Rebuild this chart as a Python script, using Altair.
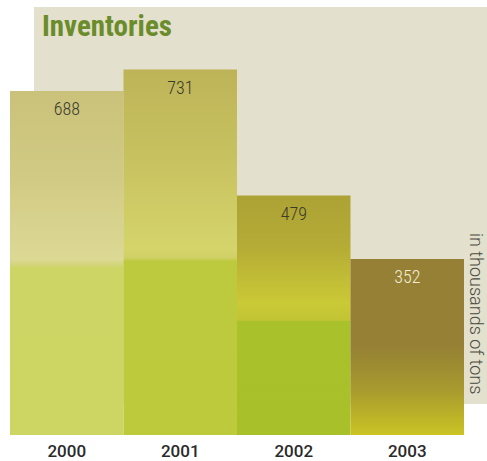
import altair as alt
import pandas as pd

years = ["2000", "2001", "2002", "2003"]
values = [688, 731, 479, 352]
label_colors = ["#3c3a2c", "#3c3a2c", "#3c3a2c", "#f3efd6"]

title_text = "Inventories"
unit_text = "in thousands of tons"

# gradient stops per bar (top -> bottom)
gradients = {
    "2000": [(0.0, "#cac27a"), (0.25, "#d1ca84"), (0.49, "#dcd995"), (0.505, "#d3d57a"), (0.515, "#cdd564"), (1.0, "#cdd563")],
    "2001": [(0.0, "#bdb458"), (0.25, "#c8c260"), (0.49, "#d5d46b"), (0.515, "#cfd066"), (0.525, "#bdca3d"), (1.0, "#bdca3c")],
    "2002": [(0.0, "#ada335"), (0.2, "#b4aa36"), (0.45, "#cac936"), (0.52, "#c2c434"), (0.527, "#a9c22c"), (1.0, "#a8c12b")],
    "2003": [(0.0, "#958035"), (0.49, "#958035"), (0.75, "#a99b2e"), (1.0, "#cac424")],
}

df = pd.DataFrame({"year": years, "value": values, "lc": label_colors})

x_enc = alt.X("year:N", sort=years,
              scale=alt.Scale(domain=years, paddingInner=0, paddingOuter=0),
              axis=alt.Axis(title=None, labelAngle=0, domain=False, ticks=False,
                            labelFont="Roboto", labelFontSize=17, labelFontWeight=500,
                            labelColor="#2a2a2a", labelPadding=8))
y_enc = alt.Y("value:Q", scale=alt.Scale(domain=[0, 800], nice=False), axis=None)

bg = alt.Chart(alt.Data(values=[{"a": 1}])).mark_rect(color="#e3e0cd").encode(
    x=alt.value(24), x2=alt.value(477), y=alt.value(-28), y2=alt.value(369)
)

bars = []
for yr in years:
    stops = [alt.GradientStop(offset=o, color=c) for o, c in gradients[yr]]
    bars.append(
        alt.Chart(df).mark_bar(
            color=alt.Gradient(gradient="linear", stops=stops, x1=0, x2=0, y1=0, y2=1)
        ).encode(x=x_enc, y=y_enc).transform_filter(alt.datum.year == yr)
    )

labels = alt.Chart(df).mark_text(
    font="Liberation Sans Narrow, Roboto Condensed, Roboto", fontSize=18, fontWeight=300,
    baseline="alphabetic", dy=24
).encode(
    x=x_enc, y=y_enc, text="value:Q",
    color=alt.Color("lc:N", scale=None, legend=None)
)

title = alt.Chart(alt.Data(values=[{"t": title_text}])).mark_text(
    font="Liberation Sans Narrow, Roboto Condensed, Roboto", fontSize=29, fontWeight="bold",
    color="#6b8c2b", align="left", baseline="alphabetic"
).encode(x=alt.value(32), y=alt.value(1), text="t:N")

unit = alt.Chart(alt.Data(values=[{"t": unit_text}])).mark_text(
    font="Roboto", fontSize=18, fontWeight=300, color="#4a4a42",
    align="left", baseline="middle", angle=90
).encode(x=alt.value(465), y=alt.value(198), text="t:N")

chart = alt.layer(bg, *bars, labels, title, unit).properties(
    width=454, height=400,
    autosize=alt.AutoSizeParams(type="none"),
    padding={"left": 10, "top": 35, "right": 23, "bottom": 26},
    background="white",
).configure_view(stroke=None)

chart.save("out.html", embed_options={"renderer": "svg", "actions": False})
